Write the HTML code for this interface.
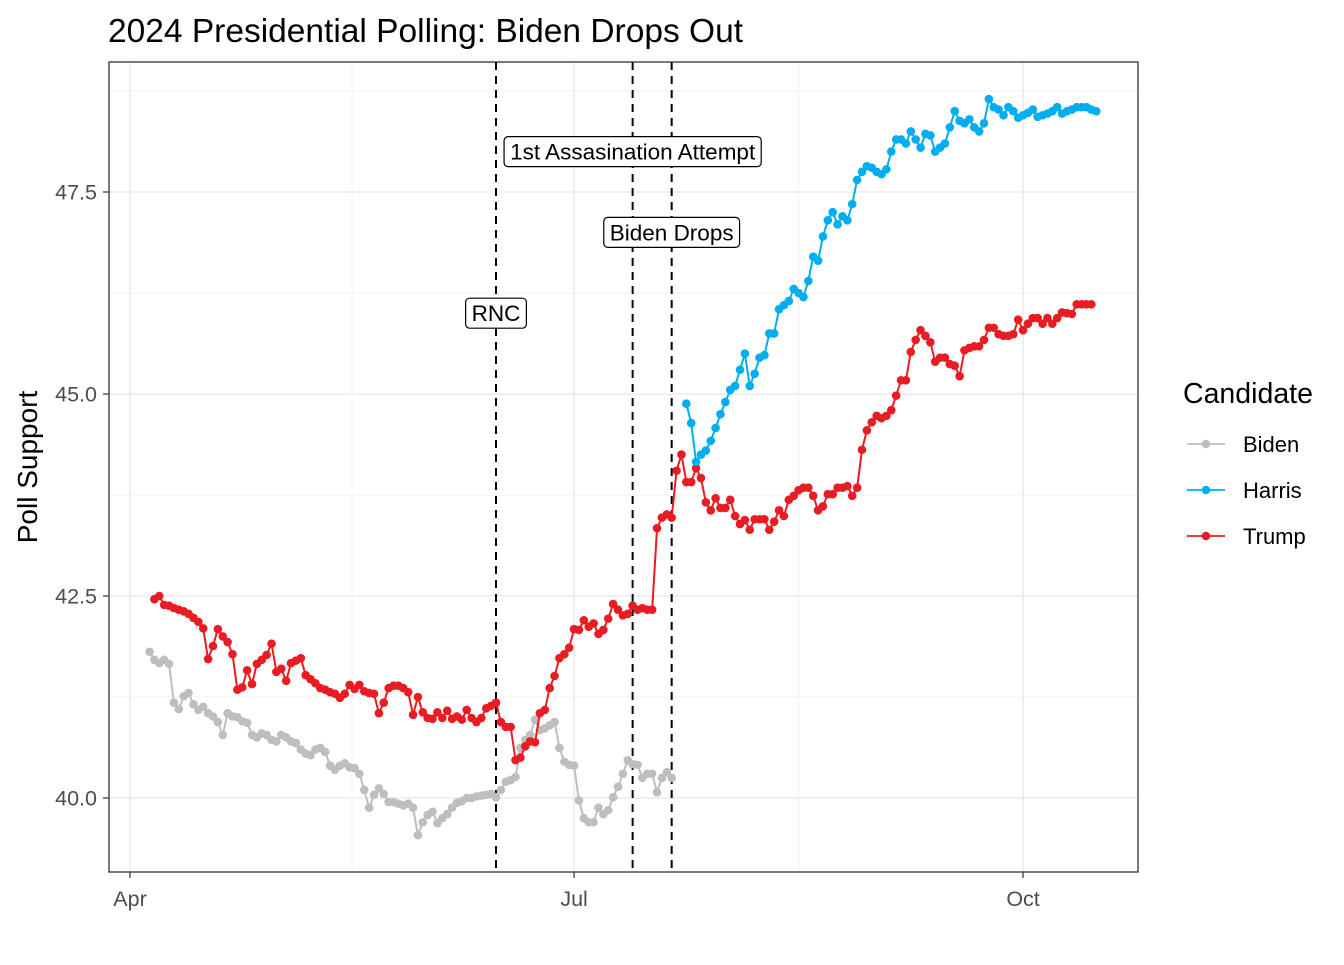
<!DOCTYPE html>
<html><head><meta charset="utf-8"><style>
body{margin:0;background:#fff;}
svg text{font-family:"Liberation Sans",Arial,sans-serif;}
</style></head><body>
<svg id="chart" width="1344" height="960">
<defs><clipPath id="plotclip"><rect x="109" y="62" width="1029" height="810"/></clipPath></defs>
<rect x="0" y="0" width="1344" height="960" fill="#fff"/>
<text x="108" y="42" font-size="33.5" fill="#000">2024 Presidential Polling: Biden Drops Out</text>
<g id="grid" clip-path="url(#plotclip)"></g>
<g id="events"></g>
<g id="series"></g>
<rect x="109" y="62" width="1029" height="810" fill="none" stroke="#333" stroke-width="1.3"/>
<g id="axes"></g>
<text transform="translate(37,467) rotate(-90)" text-anchor="middle" font-size="28" fill="#000">Poll Support</text>
<g>
<text x="1183" y="403" font-size="28.5" fill="#000">Candidate</text>
<g><line x1="1187" y1="444" x2="1225" y2="444" stroke="#bebebe" stroke-width="1.8"/><circle cx="1206" cy="444" r="4.3" fill="#bebebe"/><text x="1243" y="452" font-size="22">Biden</text></g>
<g><line x1="1187" y1="490" x2="1225" y2="490" stroke="#00aeef" stroke-width="1.8"/><circle cx="1206" cy="490" r="4.3" fill="#00aeef"/><text x="1243" y="498" font-size="22">Harris</text></g>
<g><line x1="1187" y1="536" x2="1225" y2="536" stroke="#e81c23" stroke-width="1.8"/><circle cx="1206" cy="536" r="4.3" fill="#e81c23"/><text x="1243" y="544" font-size="22">Trump</text></g>
</g>
</svg>
<script>
const yTicks=[40.0,42.5,45.0,47.5];
const yMinor=[41.25,43.75,46.25,48.75];
const xTickLabels=["Apr","Jul","Oct"];
const xTickDays=[0,91,183];
const xMinorDays=[45.5,137,228];
const eventNames=["RNC","1st Assasination Attempt","Biden Drops"];
const eventDays=[75,103,111];
const eventLabelY=[46.0,48.0,47.0];
const eventLabelDays=[75,103,111];
const bidenStart=4;
const biden=[41.81,41.71,41.67,41.71,41.66,41.18,41.1,41.26,41.3,41.16,41.09,41.13,41.05,41.01,40.94,40.78,41.05,41.01,41.0,40.95,40.93,40.78,40.75,40.8,40.78,40.72,40.7,40.78,40.75,40.7,40.68,40.6,40.55,40.53,40.6,40.62,40.57,40.4,40.35,40.4,40.43,40.38,40.37,40.3,40.1,39.88,40.04,40.12,40.05,39.95,39.95,39.93,39.91,39.93,39.88,39.54,39.7,39.79,39.83,39.69,39.75,39.8,39.88,39.94,39.96,40.0,40.0,40.02,40.03,40.04,40.05,40.01,40.1,40.2,40.22,40.26,40.62,40.72,40.78,40.97,40.84,40.86,40.9,40.94,40.62,40.45,40.41,40.4,39.97,39.75,39.7,39.7,39.88,39.8,39.85,40.01,40.14,40.3,40.47,40.42,40.41,40.25,40.3,40.3,40.07,40.25,40.32,40.25];
const harrisStart=114;
const harris=[44.88,44.64,44.16,44.25,44.3,44.42,44.58,44.75,44.9,45.05,45.1,45.3,45.5,45.1,45.25,45.45,45.48,45.75,45.75,46.05,46.1,46.15,46.3,46.25,46.2,46.4,46.7,46.65,46.95,47.15,47.25,47.1,47.2,47.15,47.35,47.65,47.75,47.82,47.8,47.75,47.72,47.78,48.0,48.15,48.15,48.1,48.25,48.15,48.05,48.22,48.2,48.0,48.05,48.1,48.3,48.5,48.38,48.35,48.4,48.3,48.25,48.35,48.65,48.55,48.52,48.45,48.55,48.5,48.42,48.45,48.48,48.52,48.43,48.45,48.47,48.5,48.55,48.47,48.5,48.52,48.55,48.55,48.55,48.52,48.5];
const trumpStart=5;
const trump=[42.46,42.5,42.39,42.38,42.35,42.33,42.31,42.28,42.23,42.18,42.1,41.72,41.88,42.09,42.0,41.93,41.78,41.34,41.37,41.58,41.41,41.66,41.71,41.77,41.91,41.56,41.6,41.45,41.67,41.7,41.73,41.52,41.47,41.42,41.36,41.34,41.31,41.29,41.24,41.29,41.4,41.35,41.4,41.32,41.3,41.29,41.05,41.18,41.36,41.39,41.39,41.36,41.31,41.03,41.25,41.06,40.99,40.98,41.06,40.99,41.08,40.98,41.01,40.97,41.09,40.99,40.94,40.99,41.11,41.14,41.18,40.94,40.88,40.88,40.47,40.5,40.64,40.7,40.69,41.05,41.09,41.36,41.51,41.73,41.78,41.86,42.09,42.08,42.2,42.12,42.16,42.03,42.08,42.22,42.4,42.33,42.26,42.28,42.38,42.33,42.35,42.33,42.33,43.34,43.47,43.51,43.47,
44.05,44.25,43.91,43.91,44.08,43.96,43.66,43.56,43.71,43.59,43.59,43.69,43.49,43.39,43.44,43.32,43.45,43.45,43.45,43.32,43.42,43.56,43.49,43.69,43.74,43.81,43.84,43.84,43.74,43.56,43.61,43.76,43.76,43.84,43.84,43.86,43.74,43.84,44.31,44.55,44.65,44.73,44.7,44.73,44.8,44.98,45.17,45.17,45.52,45.67,45.79,45.72,45.64,45.4,45.45,45.45,45.37,45.35,45.22,45.54,45.57,45.59,45.59,45.67,45.82,45.82,45.74,45.72,45.72,45.74,45.92,45.79,45.87,45.94,45.94,45.87,45.94,45.87,45.94,46.01,46.0,45.99,46.11,46.11,46.11,46.11];

const NS="http://www.w3.org/2000/svg";
function X(d){return 130+d*4.88;}
function Y(v){return 798-(v-40)*80.8;}
function mk(tag,attrs,parent){const e=document.createElementNS(NS,tag);for(const k in attrs)e.setAttribute(k,attrs[k]);parent.appendChild(e);return e;}
const grid=document.getElementById('grid'),axes=document.getElementById('axes'),ev=document.getElementById('events'),ser=document.getElementById('series');
yMinor.forEach(v=>{const l=mk('line',{x1:109,x2:1138,y1:Y(v),y2:Y(v),stroke:'#f2f2f2','stroke-width':1},grid);

});
xMinorDays.forEach(d=>{const l=mk('line',{x1:X(d),x2:X(d),y1:62,y2:872,stroke:'#f2f2f2','stroke-width':1},grid);

});
yTicks.forEach(v=>{const l=mk('line',{x1:109,x2:1138,y1:Y(v),y2:Y(v),stroke:'#ebebeb','stroke-width':1.6},grid);


const t=mk('line',{x1:103,x2:109,y1:Y(v),y2:Y(v),stroke:'#333','stroke-width':1.2},axes);


const tx=mk('text',{x:97,y:Y(v)+7.5,'text-anchor':'end','font-size':21.5,fill:'#4d4d4d'},axes);tx.textContent=v.toFixed(1);

});
xTickDays.forEach((d,i)=>{const l=mk('line',{x1:X(d),x2:X(d),y1:62,y2:872,stroke:'#ebebeb','stroke-width':1.6},grid);


const t=mk('line',{x1:X(d),x2:X(d),y1:872,y2:878,stroke:'#333','stroke-width':1.2},axes);


const tx=mk('text',{x:X(d),y:906,'text-anchor':'middle','font-size':21.5,fill:'#4d4d4d'},axes);tx.textContent=xTickLabels[i];

});
eventDays.forEach(d=>{const l=mk('line',{x1:X(d),x2:X(d),y1:62,y2:872,stroke:'#000','stroke-width':2,'stroke-dasharray':'8,6'},ev);

});
function drawSeries(vals,start,color,name){
 const pts=vals.map((v,i)=>[X(start+i),Y(v)]);
 const p=mk('polyline',{points:pts.map(p=>p.join(',')).join(' '),fill:'none',stroke:color,'stroke-width':2},ser);
 
 
 pts.forEach(q=>{const c=mk('circle',{cx:q[0],cy:q[1],r:4.3,fill:color},ser);
 
 });
}
drawSeries(biden,bidenStart,'#bebebe','biden');
drawSeries(trump,trumpStart,'#e81c23','trump');
drawSeries(harris,harrisStart,'#00aeef','harris');
eventNames.forEach((n,i)=>{const g=mk('g',{},ev);


const cx=X(eventLabelDays[i]),cy=Y(eventLabelY[i]);
const t=mk('text',{x:cx,y:cy+8,'text-anchor':'middle','font-size':22.5,fill:'#000'},g);t.textContent=n;
const w=t.getComputedTextLength()+12;
const r=mk('rect',{x:cx-w/2,y:cy-15,width:w,height:30,rx:4,fill:'#fff',stroke:'#000','stroke-width':1.2},g);
g.insertBefore(r,t);});
</script>
</body></html>
